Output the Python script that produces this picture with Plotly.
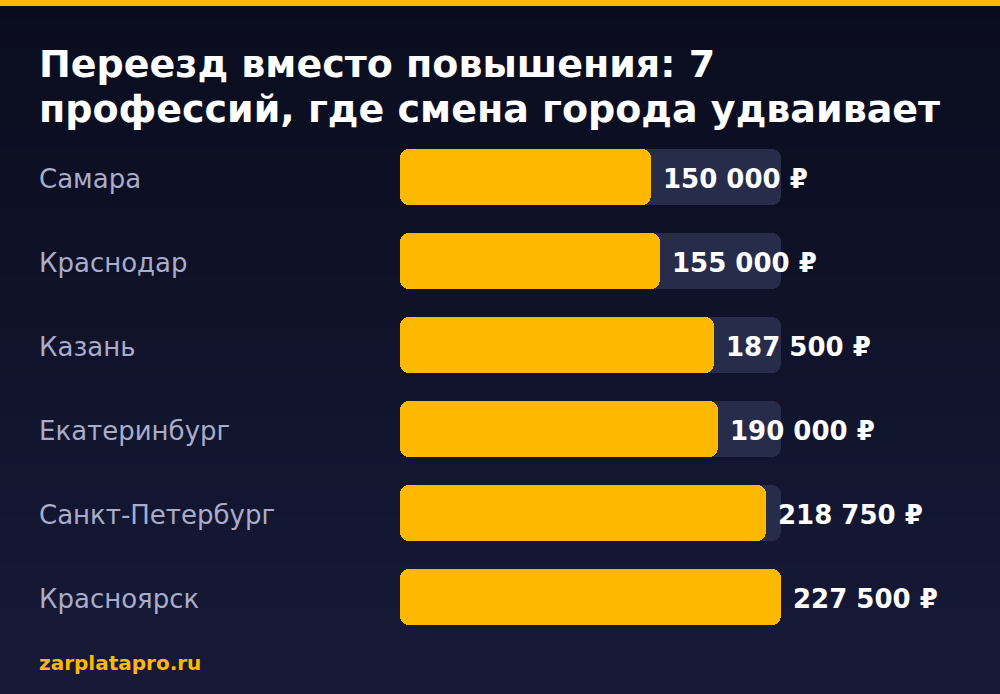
import plotly.graph_objects as go

cities = ["Самара", "Краснодар", "Казань", "Екатеринбург", "Санкт-Петербург", "Красноярск"]
salaries = [150000, 155000, 187500, 190000, 218750, 227500]
value_labels = ["150 000 ₽", "155 000 ₽", "187 500 ₽", "190 000 ₽", "218 750 ₽", "227 500 ₽"]
title_lines = ["Переезд вместо повышения: 7", "профессий, где смена города удваивает"]
footer = "zarplatapro.ru"

W, H = 1000, 694
YELLOW = "#FFB800"
TRACK = "#272C4A"
FONT = "DejaVu Sans"
RADIUS = 9
BAR_W = 0.655
vmax = max(salaries)


def rounded_bar(values, color, hover=True):
    """Draw fully rounded horizontal bars as two overlapping halves,
    each rounded at its tip (plotly rounds the end away from the base)."""
    right = go.Bar(
        y=cities, x=[v * 0.6 for v in values], base=[v * 0.4 for v in values], orientation="h",
        marker=dict(color=color, cornerradius=RADIUS, line=dict(width=0)),
        width=BAR_W, showlegend=False,
        hoverinfo="skip" if not hover else None,
        customdata=values, hovertemplate="%{y}: %{customdata}<extra></extra>" if hover else None,
    )
    left = go.Bar(
        y=cities, x=[-v * 0.6 for v in values], base=[v * 0.6 for v in values], orientation="h",
        marker=dict(color=color, cornerradius=RADIUS, line=dict(width=0)),
        width=BAR_W, showlegend=False, hoverinfo="skip",
    )
    return [left, right]


fig = go.Figure()
for tr in rounded_bar([vmax] * len(cities), TRACK, hover=False):
    fig.add_trace(tr)
for tr in rounded_bar(salaries, YELLOW):
    fig.add_trace(tr)

# background gradient
top = (10, 12, 30)
bot = (22, 26, 55)
n = 70
shapes = []
for i in range(n):
    t = i / (n - 1)
    c = tuple(round(top[k] + (bot[k] - top[k]) * t) for k in range(3))
    y1 = 1 - i / n
    y0 = 1 - (i + 1) / n
    shapes.append(dict(type="rect", xref="paper", yref="paper", x0=0, x1=1, y0=y0 - 0.001, y1=y1 + 0.001,
                       fillcolor="rgb(%d,%d,%d)" % c, line=dict(width=0), layer="below"))
# top stripe
shapes.append(dict(type="rect", xref="paper", yref="paper", x0=0, x1=1, y0=1 - 6 / H, y1=1,
                   fillcolor=YELLOW, line=dict(width=0), layer="above"))

x0p, x1p = 400 / W, 781 / W
ytop, ybot = 135, 639
LEFT = 37 / W

annotations = []
for line, yc in zip(title_lines, [64, 109]):
    annotations.append(dict(
        text=line, xref="paper", yref="paper", x=LEFT, y=1 - yc / H,
        xanchor="left", yanchor="middle", align="left", showarrow=False,
        font=dict(family=FONT, size=38, color="white", weight="bold"),
    ))
for city, v, lab in zip(cities, salaries, value_labels):
    annotations.append(dict(
        text=city, xref="paper", yref="y", x=LEFT, y=city, xanchor="left", yanchor="middle",
        yshift=-2, showarrow=False, font=dict(family=FONT, size=26, color="#A9ADC9"),
    ))
    annotations.append(dict(
        text=lab, xref="x", yref="y", x=v, y=city, xanchor="left", yanchor="middle",
        xshift=10, yshift=-2, showarrow=False, font=dict(family=FONT, size=26, color="white", weight="bold"),
    ))
annotations.append(dict(
    text=footer, xref="paper", yref="paper", x=LEFT, y=1 - 663 / H, xanchor="left", yanchor="middle",
    showarrow=False, font=dict(family=FONT, size=20, color=YELLOW, weight="bold"),
))

fig.update_layout(
    width=W, height=H, margin=dict(l=0, r=0, t=0, b=0),
    paper_bgcolor="#0F1228", plot_bgcolor="rgba(0,0,0,0)",
    barmode="overlay", bargap=0,
    xaxis=dict(domain=[x0p, x1p], range=[0, vmax], visible=False, fixedrange=True),
    yaxis=dict(domain=[1 - ybot / H, 1 - ytop / H], autorange=False, range=[len(cities) - 0.5, -0.5],
               visible=False, fixedrange=True, type="category"),
    shapes=shapes, annotations=annotations,
    font=dict(family=FONT),
)
fig.write_html("out.html", config={"displayModeBar": False})
